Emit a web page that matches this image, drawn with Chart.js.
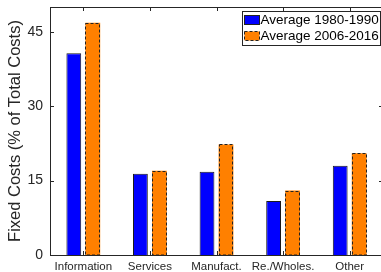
<!DOCTYPE html>
<html>
<head>
<meta charset="utf-8">
<script src="https://cdn.jsdelivr.net/npm/chart.js@4.4.1/dist/chart.umd.min.js"></script>
<style>
  html, body { margin: 0; padding: 0; background: #fff; overflow: hidden; }
  #wrap { width: 390px; height: 272px; position: relative; }
</style>
</head>
<body>
<div id="wrap"><canvas id="chart"></canvas></div>
<script>
// data
const categories = ['Information', 'Services', 'Manufact.', 'Re./Wholes.', 'Other'];
const avg1980 = [40.7, 16.4, 16.8, 10.9, 18.0];
const avg2006 = [46.8, 17.0, 22.3, 13.0, 20.5];
const seriesNames = ['Average 1980-1990', 'Average 2006-2016'];
const yTicks = [0, 15, 30, 45];

const axisColor = '#262626';
const fontFamily = '"Liberation Sans", Arial, sans-serif';

// box, inward ticks, dashed borders for the second series
const decorations = {
    id: 'decorations',
    afterDatasetsDraw(chart) {
        const ctx = chart.ctx;
        const area = chart.chartArea;
        const x = chart.scales.x;
        const y = chart.scales.y;

        // dashed outlines on orange bars
        const meta = chart.getDatasetMeta(1);
        ctx.save();
        ctx.strokeStyle = '#222';
        ctx.lineWidth = 1;
        ctx.setLineDash([3, 2]);
        meta.data.forEach(bar => {
            const p = bar.getProps(['x', 'y', 'base', 'width'], true);
            const l = Math.round(p.x - p.width / 2) + 0.5;
            const r = Math.round(p.x + p.width / 2) - 0.5;
            const t = Math.round(p.y) + 0.5;
            ctx.strokeRect(l, t, r - l, Math.round(p.base) - t);
        });
        ctx.restore();

        ctx.save();
        ctx.strokeStyle = axisColor;
        ctx.lineWidth = 1;
        ctx.strokeRect(Math.round(area.left) + 0.5, Math.round(area.top) + 0.5,
            Math.round(area.right - area.left), Math.round(area.bottom - area.top));
        ctx.beginPath();
        yTicks.forEach(v => {
            const py = Math.round(y.getPixelForValue(v)) + 0.5;
            ctx.moveTo(area.left, py); ctx.lineTo(area.left + 4, py);
            ctx.moveTo(area.right, py); ctx.lineTo(area.right - 4, py);
        });
        categories.forEach((c, i) => {
            const px = Math.round(x.getPixelForValue(i)) + 0.5;
            ctx.moveTo(px, area.top); ctx.lineTo(px, area.top + 4);
            ctx.moveTo(px, area.bottom); ctx.lineTo(px, area.bottom - 4);
        });
        ctx.stroke();
        ctx.restore();

        // legend box
        ctx.save();
        const bx = 242.5, by = 11.5, bw = 138, bh = 34;
        ctx.fillStyle = '#fff';
        ctx.fillRect(bx, by, bw, bh);
        ctx.strokeStyle = axisColor;
        ctx.strokeRect(bx, by, bw, bh);
        ctx.font = '13.5px ' + fontFamily;
        ctx.textBaseline = 'middle';
        chart.data.datasets.forEach((ds, i) => {
            const ry = by + 4 + i * 16;
            ctx.fillStyle = ds.backgroundColor;
            ctx.fillRect(bx + 2, ry, 15, 9);
            ctx.strokeStyle = '#222';
            ctx.setLineDash(i === 1 ? [3, 2] : []);
            ctx.strokeRect(bx + 2, ry, 15, 9);
            ctx.setLineDash([]);
            ctx.fillStyle = '#000';
            ctx.fillText(ds.label, bx + 18, ry + 5);
        });
        ctx.restore();
    }
};

new Chart(document.getElementById('chart'), {
    type: 'bar',
    data: {
        labels: categories,
        datasets: [
            {
                label: seriesNames[0],
                data: avg1980,
                backgroundColor: '#0000ff',
                borderColor: '#1a1a1a',
                borderWidth: 1,
                categoryPercentage: 0.57,
                barPercentage: 0.78
            },
            {
                label: seriesNames[1],
                data: avg2006,
                backgroundColor: '#ff8000',
                borderWidth: 0,
                categoryPercentage: 0.57,
                barPercentage: 0.78
            }
        ]
    },
    options: {
        responsive: true,
        maintainAspectRatio: false,
        animation: false,
        layout: { padding: { top: 7, right: 7, left: 6, bottom: 0 } },
        plugins: {
            legend: { display: false },
            tooltip: { enabled: false }
        },
        scales: {
            x: {
                grid: { display: false, drawTicks: false },
                border: { display: false },
                ticks: {
                    color: '#262626',
                    padding: 5,
                    maxRotation: 0,
                    autoSkip: false,
                    font: { size: 11.5, family: fontFamily }
                },
                afterFit: scale => {
                    scale.height = 17;
                    scale.paddingLeft = 0;
                    scale.paddingRight = 0;
                }
            },
            y: {
                min: 0,
                max: 50,
                afterBuildTicks: scale => { scale.ticks = yTicks.map(v => ({ value: v })); },
                grid: { display: false, drawTicks: false },
                border: { display: false },
                ticks: {
                    color: '#262626',
                    padding: 7,
                    font: { size: 14, family: fontFamily }
                },
                title: {
                    display: true,
                    text: 'Fixed Costs (% of Total Costs)',
                    color: '#262626',
                    padding: { top: 0, bottom: 0 },
                    font: { size: 16.5, family: fontFamily }
                },
                afterFit: scale => {
                    scale.width = 44;
                    scale.paddingTop = 0;
                    scale.paddingBottom = 0;
                }
            }
        }
    },
    plugins: [decorations]
});
</script>
</body>
</html>
